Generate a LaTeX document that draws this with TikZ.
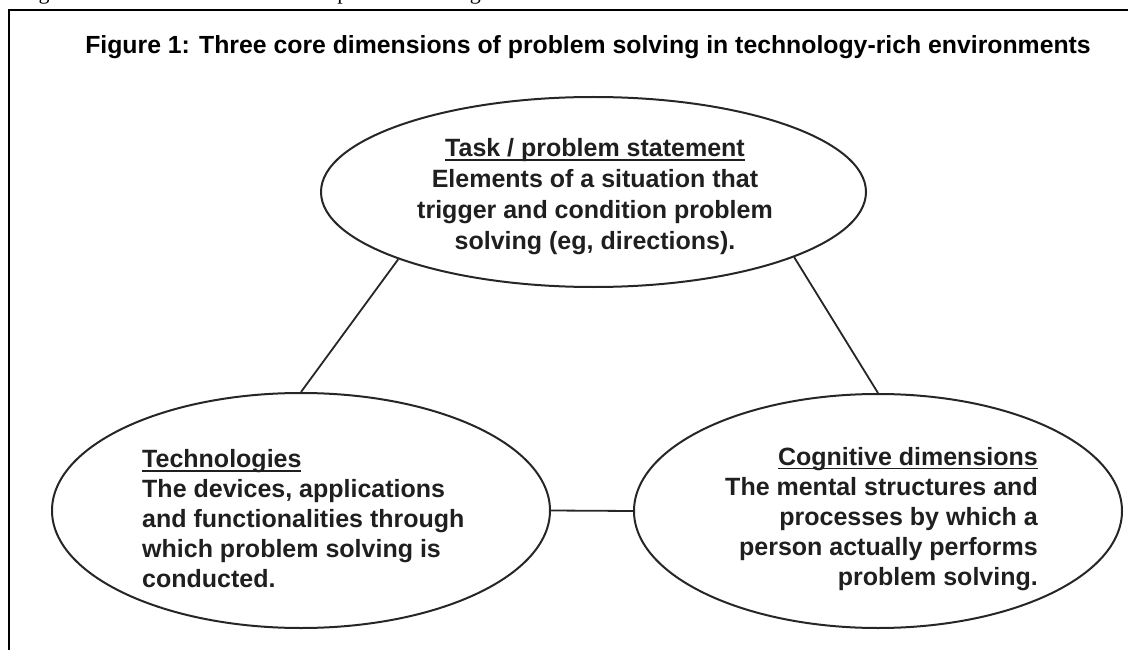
\documentclass[tikz,border=0pt]{standalone}
\usepackage{fontspec}
\setmainfont{Liberation Sans}
\newfontfamily\serifcut{Liberation Serif}
\usetikzlibrary{shapes.geometric}
\newcommand{\myul}[1]{\setbox0\hbox{#1}\rlap{\rule[-3.8pt]{\wd0}{1.7pt}}\box0}
\tikzset{
  dim/.style={ellipse, draw=black!85, line width=2pt, inner sep=0pt},
  bodytext/.style={font=\bfseries\fontsize{25}{30}\selectfont, text=black!88, inner sep=0pt},
  link/.style={draw=black!85, line width=1.8pt},
  frameline/.style={draw=black, line width=2.6pt}
}
\begin{document}
\begin{tikzpicture}[x=1pt,y=-1pt]
\useasboundingbox (0,0) rectangle (1128,650);
% cut-off caption line from the page above
\begin{scope}
\clip (0,0) rectangle (1128,8);
\node[anchor=base west, inner sep=0pt, font=\serifcut\fontsize{22}{26}\selectfont] (cut) at (20,-0.5) {Figure 1: Three core dimensions of problem solving};
\end{scope}
% frame
\coordinate (fa) at (9,650);
\coordinate (fb) at (9,10);
\coordinate (fc) at (1128,10);
\draw[frameline] (fa) -- (fb) -- (fc);
% title
\node[font=\bfseries\fontsize{24.8}{28}\selectfont, inner sep=0pt] (title) at (588,47) {Figure 1: Three core dimensions of problem solving in technology-rich environments};
% ellipses
\node[dim, minimum width=545pt, minimum height=190pt] (task) at (593.5,192) {};
\node[dim, minimum width=498pt, minimum height=235pt] (tech) at (301,510.5) {};
\node[dim, minimum width=488pt, minimum height=234pt] (cog) at (878,511) {};
% texts
\node[bodytext, align=center, font=\bfseries\fontsize{25}{31}\selectfont] (tasktext) at (595,197) {\myul{Task / problem statement}\\Elements of a situation that\\trigger and condition problem\\solving (eg, directions).};
\node[bodytext, align=left, anchor=west] (techtext) at (142,519) {\myul{Technologies}\\The devices, applications\\and functionalities through\\which problem solving is\\conducted.};
\node[bodytext, align=right, anchor=east] (cogtext) at (1038,519) {\myul{Cognitive dimensions}\\The mental structures and\\processes by which a\\person actually performs\\problem solving.};
% connectors
\draw[link] (task.199.5) -- (tech.90);
\draw[link] (task.-18.6) -- (cog.90);
\draw[link] (tech.east) -- (cog.west);
\end{tikzpicture}
\end{document}
